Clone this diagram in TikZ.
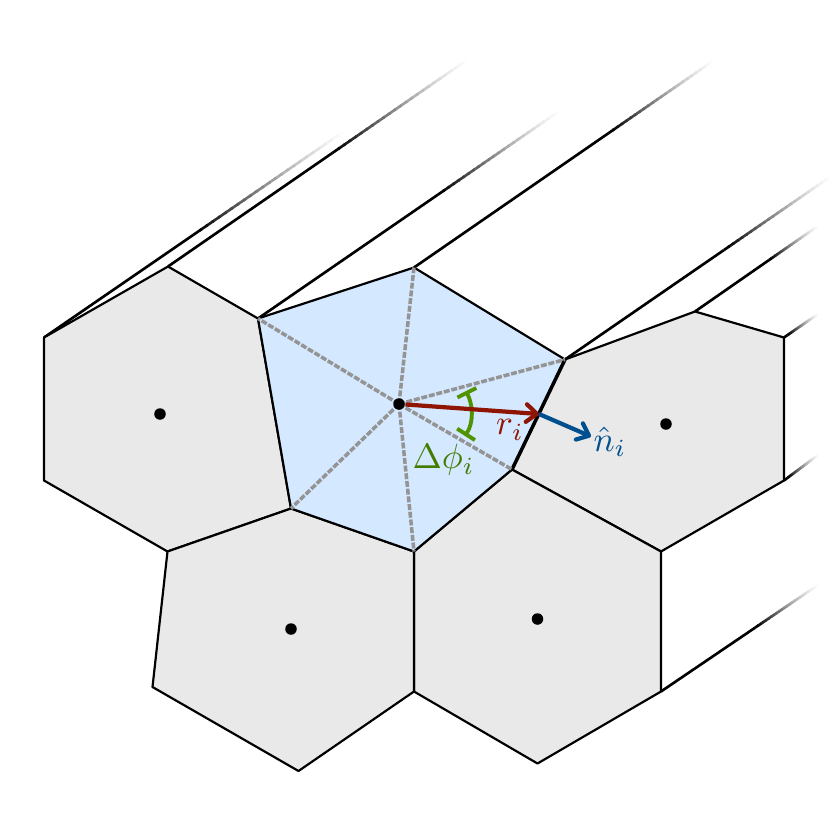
\documentclass[tikz,border=0pt]{standalone}
\usepackage{amsmath}
\usepackage{xcolor}
\usetikzlibrary{calc,arrows.meta}
\definecolor{cellgray}{HTML}{E9E9E9}
\definecolor{cellblue}{HTML}{D4E8FF}
\definecolor{radred}{HTML}{8F1402}
\definecolor{normblue}{HTML}{00508F}
\definecolor{anglegreen}{HTML}{4F9300}
\begin{document}
\begin{tikzpicture}
	[   x=0.01cm,y=-0.01cm,
		cell/.style={draw=black,line width=0.62pt,line join=round,fill=#1},
		cdot/.style={fill=black,circle,inner sep=0pt,minimum size=1.15mm},
	]
	\tikzset{spoke/.style={draw=black!42,line width=1pt,dash pattern=on 1.7pt off 0.5pt}}
	\tikzset{normal arrow/.style={draw,line width=1.2pt,-{Straight Barb[length=3pt,width=5pt,round]}}}
	\useasboundingbox (0,0) rectangle (830,830);
	
	% corners of the cells
	\coordinate (a-1) at (44,337.5);
	\coordinate (a-2) at (168,266.5);
	\coordinate (a-3) at (258,318.5);
	\coordinate (a-4) at (414,267.5);
	\coordinate (a-5) at (565,359.5);
	\coordinate (a-6) at (695,311.5);
	\coordinate (a-7) at (784,337.5);
	\coordinate (a-8) at (784,480.5);
	\coordinate (a-9) at (661,551.5);
	\coordinate (a-10) at (661,691.5);
	\coordinate (a-11) at (537.5,763.5);
	\coordinate (a-12) at (414,691.5);
	\coordinate (a-13) at (298.5,771);
	\coordinate (a-14) at (152.5,687);
	\coordinate (a-15) at (167.5,551.5);
	\coordinate (a-16) at (44,480.5);
	\coordinate (a-17) at (291,508.5);
	\coordinate (a-18) at (414,551.5);
	\coordinate (a-19) at (512,469.5);
	\coordinate (m) at (539,414);
	
	% far ends of the fading edges
	\coordinate (e-1) at (343,132);
	\coordinate (e-2) at (467,60);
	\coordinate (e-3) at (558,112);
	\coordinate (e-4) at (713,61);
	\coordinate (e-5) at (830,177);
	\coordinate (e-6) at (818,226);
	\coordinate (e-7) at (818,314);
	\coordinate (e-8) at (818,455);
	\coordinate (e-10) at (818,585);
	
	\foreach \x/\f in {1/0.5,2/0.55,3/0.6,4/0.65,5/0.6,6/0.6,7/0.1,8/0.1,10/0.6}
	{
		\draw[line width=0.75pt] (a-\x) -- ($(a-\x)!\f!(e-\x)$);
		\foreach \s in {24,23,...,0}
		{
			\pgfmathsetmacro{\ta}{\f+(1-\f)*\s/24}
			\pgfmathsetmacro{\tb}{min(1,\f+(1-\f)*(\s+1.3)/24)}
			\pgfmathsetmacro{\c}{100*(1-\s/24)^1.4}
			\draw[line width=0.75pt,black!\c] ($(a-\x)!\ta!(e-\x)$) -- ($(a-\x)!\tb!(e-\x)$);
		}
	}
	
	\draw[cell=cellgray] (a-1) -- (a-2) -- (a-3) -- (a-17) -- (a-15) -- (a-16) -- cycle;
	\draw[cell=cellgray] (a-5) -- (a-6) -- (a-7) -- (a-8) -- (a-9) -- (a-19) -- cycle;
	\draw[cell=cellgray] (a-18) -- (a-19) -- (a-9) -- (a-10) -- (a-11) -- (a-12) -- cycle;
	\draw[cell=cellgray] (a-17) -- (a-18) -- (a-12) -- (a-13) -- (a-14) -- (a-15) -- cycle;
	\draw[cell=cellblue] (a-3) -- (a-4) -- (a-5) -- (a-19) -- (a-18) -- (a-17) -- cycle;
	\draw[line width=1pt,line cap=round] (a-5) -- (a-19);
	
	\coordinate (o) at (399,404);
	\foreach \x in {3,4,5,19,18,17}
	{
		\path[spoke] (o) -- (a-\x);
	}
	
	\node[cdot] (c) at (o) {};
	\node[cdot] (c-1) at (160,414) {};
	\node[cdot] (c-2) at (666,424) {};
	\node[cdot] (c-3) at (537.5,619) {};
	\node[cdot] (c-4) at (291,629) {};
	
	\draw[anglegreen,line width=1.1pt,{Bar[width=6pt]}-{Bar[width=6pt]}] (466,391) .. controls (473,405) and (474,422) .. (465,436);
	\coordinate (n) at (591,436.5);
	\path[normal arrow,radred] (c) -- (m);
	\path[normal arrow,normblue] (m) -- (n);
	
	\node[radred] (r) at (510,430) {$r_i$};
	\node[normblue] (nhat) at (610,441.5) {$\hat{n}_i$};
	\node[anglegreen!85!black] (dphi) at (443.5,460) {$\Delta\phi_i$};
\end{tikzpicture}
\end{document}
